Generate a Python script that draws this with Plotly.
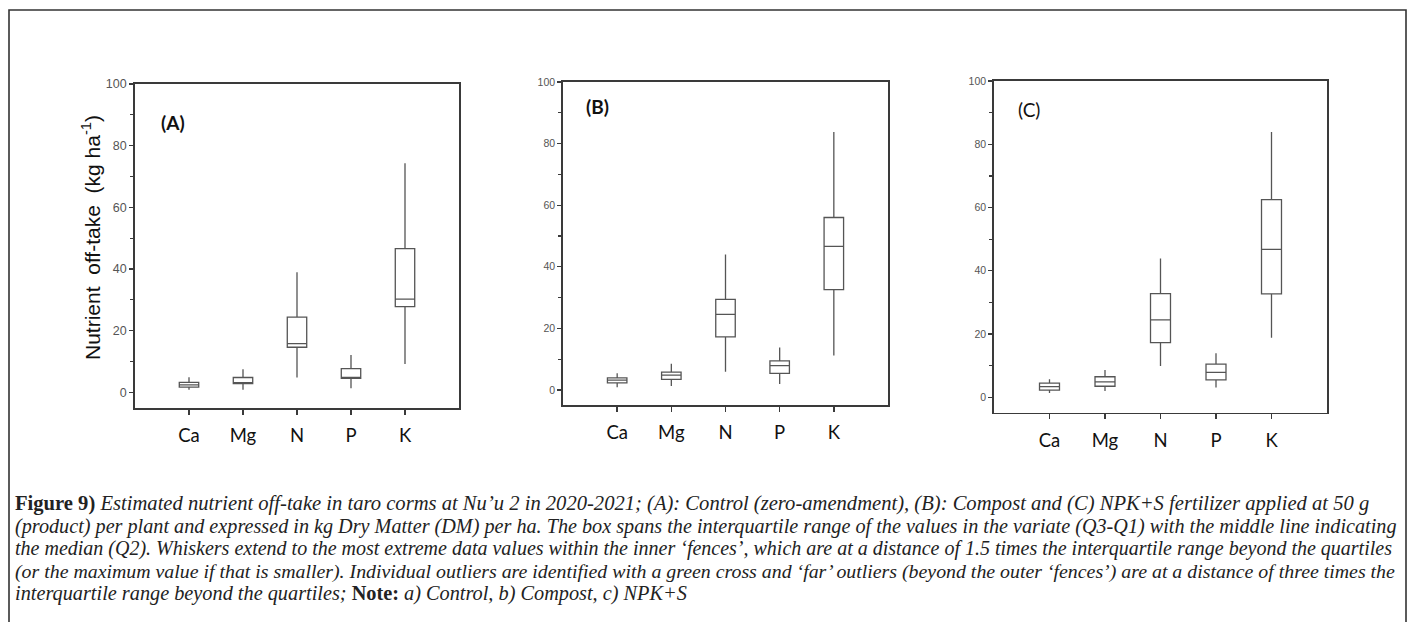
import plotly.graph_objects as go

W, H = 1413, 622

nutrients = ["Ca", "Mg", "N", "P", "K"]

# Panel A: Control
a_low = [0.8, 0.8, 4.8, 1.3, 9.2]
a_q1 = [1.7, 2.8, 14.6, 4.5, 27.8]
a_med = [2.4, 3.0, 15.8, 4.8, 30.2]
a_q3 = [3.2, 4.8, 24.4, 7.7, 46.6]
a_high = [4.9, 7.5, 38.9, 12.1, 74.3]

# Panel B: Compost
b_low = [0.9, 1.3, 5.9, 1.9, 11.2]
b_q1 = [2.3, 3.4, 17.2, 5.4, 32.6]
b_med = [3.2, 4.8, 24.5, 7.9, 46.6]
b_q3 = [3.9, 5.8, 29.4, 9.4, 56.0]
b_high = [5.4, 8.5, 44.0, 13.8, 83.8]

# Panel C: NPK+S
c_low = [1.4, 2.0, 9.9, 3.1, 18.8]
c_q1 = [2.3, 3.5, 17.3, 5.5, 32.7]
c_med = [3.4, 4.9, 24.5, 7.9, 46.8]
c_q3 = [4.5, 6.5, 32.8, 10.5, 62.5]
c_high = [5.7, 8.6, 43.9, 13.9, 83.9]

y_ticks = [0, 20, 40, 60, 80, 100]
panel_labels = ["(A)", "(B)", "(C)"]
y_title = "Nutrient  off-take  (kg ha<sup>-1</sup>)"

caption_lines = [
    "<b>Figure 9)</b> <i>Estimated nutrient off-take in taro corms at Nu\u2019u 2 in 2020-2021; (A): Control (zero-amendment), (B): Compost and (C) NPK+S fertilizer applied at 50 g</i>",
    "<i>(product) per plant and expressed in kg Dry Matter (DM) per ha. The box spans the interquartile range of the values in the variate (Q3-Q1) with the middle line indicating</i>",
    "<i>the median (Q2). Whiskers extend to the most extreme data values within the inner \u2018fences\u2019, which are at a distance of 1.5 times the interquartile range beyond the quartiles</i>",
    "<i>(or the maximum value if that is smaller). Individual outliers are identified with a green cross and \u2018far\u2019 outliers (beyond the outer \u2018fences\u2019) are at a distance of three times the</i>",
    "<i>interquartile range beyond the quartiles;</i> <b>Note:</b> <i>a) Control, b) Compost, c) NPK+S</i>",
]

def px_x(p):
    return p / W

def px_y(p):
    return 1 - p / H

panels = [
    dict(low=a_low, q1=a_q1, med=a_med, q3=a_q3, high=a_high,
         xd=(135, 459), yd=(84, 408), yr=(-5.1, 100), tickfs=12.5, lab=(173, 122), bold=True),
    dict(low=b_low, q1=b_q1, med=b_med, q3=b_q3, high=b_high,
         xd=(563, 888), yd=(82, 405), yr=(-4.9, 100), tickfs=10.5, lab=(597, 107), bold=True),
    dict(low=c_low, q1=c_q1, med=c_med, q3=c_q3, high=c_high,
         xd=(994, 1327), yd=(81, 412.5), yr=(-4.8, 100), tickfs=10.5, lab=(1029, 109), bold=False),
]

fig = go.Figure()
layout = dict(
    width=W, height=H, margin=dict(l=0, r=0, t=0, b=0, pad=0, autoexpand=False),
    paper_bgcolor="white", plot_bgcolor="white", showlegend=False,
)
annotations = []
for i, p in enumerate(panels):
    n = "" if i == 0 else str(i + 1)
    fig.add_trace(go.Box(
        x=nutrients, q1=p["q1"], median=p["med"], q3=p["q3"],
        lowerfence=p["low"], upperfence=p["high"],
        xaxis="x" + n, yaxis="y" + n,
        boxpoints=False, whiskerwidth=0, width=0.36,
        fillcolor="rgba(0,0,0,0)",
        line=dict(color="#555555", width=1.3),
        hoverinfo="skip",
    ))
    layout["xaxis" + n] = dict(
        domain=[px_x(p["xd"][0]), px_x(p["xd"][1])], anchor="y" + n,
        type="category", categoryorder="array", categoryarray=nutrients,
        range=[-1, 5], showgrid=False, zeroline=False, automargin=False,
        showline=True, mirror=True, linecolor="#3a3a3a", linewidth=1.8,
        ticks="outside", ticklen=5, tickwidth=1.5, tickcolor="#3a3a3a",
        tickfont=dict(family="Lato, Open Sans, sans-serif", size=18.5, color="#111111"),
        ticklabelstandoff=5, fixedrange=True,
    )
    layout["yaxis" + n] = dict(
        domain=[px_y(p["yd"][1]), px_y(p["yd"][0])], anchor="x" + n,
        range=list(p["yr"]), tickvals=y_ticks, showgrid=False, zeroline=False, automargin=False,
        showline=True, mirror=True, linecolor="#3a3a3a", linewidth=1.8,
        ticks="outside", ticklen=4, tickwidth=1.3, tickcolor="#3a3a3a",
        minor=dict(dtick=10, tick0=0, ticks="outside", ticklen=3, tickwidth=1.2, tickcolor="#3a3a3a"),
        tickfont=dict(family="Liberation Sans, Arial, sans-serif", size=p["tickfs"], color="#555555"),
        fixedrange=True,
    )
    lbl = "<b>" + panel_labels[i] + "</b>" if p["bold"] else panel_labels[i]
    annotations.append(dict(
        x=px_x(p["lab"][0]), y=px_y(p["lab"][1]), xref="paper", yref="paper",
        text=lbl, showarrow=False, xanchor="center", yanchor="middle",
        font=dict(family="Lato, Open Sans, sans-serif", size=19, color="#111111"),
    ))

annotations.append(dict(
    x=px_x(91), y=px_y(238), xref="paper", yref="paper", text=y_title,
    textangle=-90, showarrow=False, xanchor="center", yanchor="middle",
    font=dict(family="Liberation Sans, Arial, sans-serif", size=21, color="#111111"),
))

caption_y = [503, 526, 548.5, 571, 593.5]
caption_size = [20.6, 20.2, 20.0, 19.85, 20.3]
for line, cy, fs in zip(caption_lines, caption_y, caption_size):
    annotations.append(dict(
        x=px_x(13), y=px_y(cy), xref="paper", yref="paper", text=line,
        showarrow=False, xanchor="left", yanchor="middle", align="left",
        font=dict(family="Liberation Serif, serif", size=fs, color="#222222"),
    ))

layout["annotations"] = annotations
layout["shapes"] = [dict(
    type="rect", xref="paper", yref="paper",
    x0=px_x(9), x1=px_x(1406), y0=px_y(660), y1=px_y(10),
    line=dict(color="#333333", width=1.6), fillcolor="rgba(0,0,0,0)", layer="above",
)]

fig.update_layout(**layout)
fig.write_html(
    "out.html",
    config={"displayModeBar": False, "staticPlot": True},
    post_script="document.body.style.margin='0';document.body.style.overflow='hidden';",
)
